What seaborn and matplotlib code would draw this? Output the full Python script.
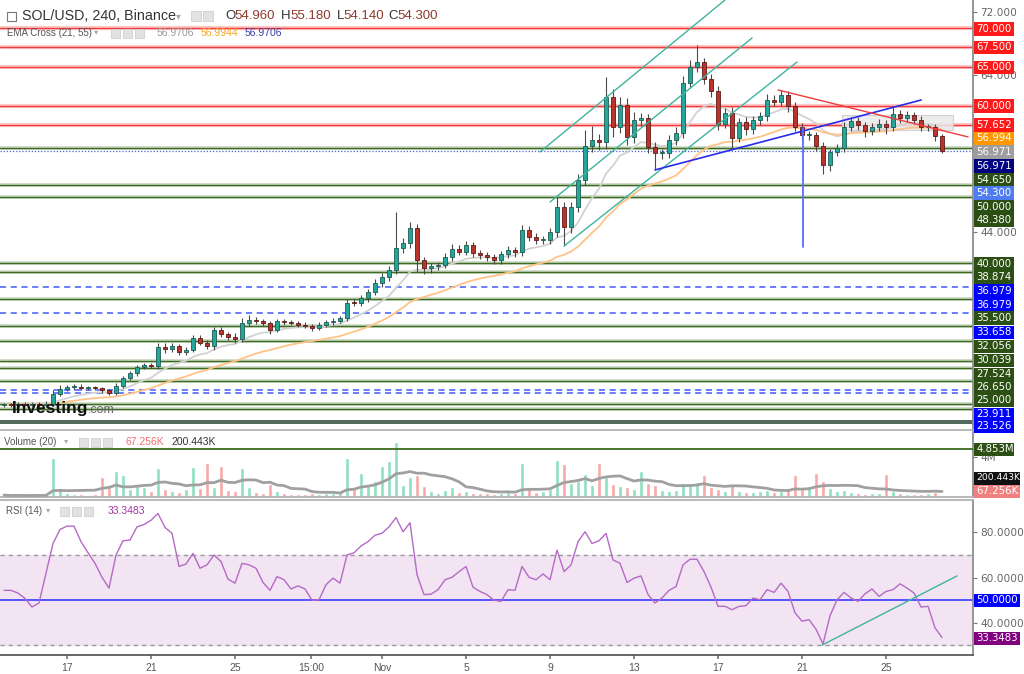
import numpy as np
import pandas as pd
import matplotlib
matplotlib.use("Agg")
import matplotlib.pyplot as plt
import seaborn as sns
from matplotlib.patches import Rectangle

# ---------------- data (8h candles, Oct 14 -> Nov 27) ----------------
first_open = 21.9
closes = [
    22.0, 21.9, 22.1, 22.0, 22.1, 21.9, 22.1, 23.4, 24.0, 24.2,
    24.3, 24.1, 24.2, 24.1, 23.8, 23.5, 24.4, 25.4, 26.0, 26.8,
    27.0, 26.9, 29.3, 29.1, 29.4, 28.7, 29.0, 30.5, 29.9, 29.4,
    31.5, 31.0, 30.6, 30.4, 32.4, 32.8, 32.6, 32.4, 31.5, 32.6,
    32.5, 32.4, 32.2, 32.0, 31.8, 32.2, 32.5, 32.7, 33.0, 35.0,
    34.9, 35.6, 36.3, 37.5, 38.3, 39.2, 41.9, 42.6, 44.5, 40.4,
    39.4, 39.6, 39.8, 40.8, 41.8, 41.5, 42.3, 41.3, 41.0, 40.8,
    40.4, 41.2, 41.7, 41.4, 44.2, 43.4, 43.0, 43.0, 44.0, 47.2,
    44.6, 47.2, 50.6, 55.0, 55.7, 55.4, 61.2, 57.4, 60.2, 56.1,
    58.3, 58.5, 54.8, 54.0, 54.0, 55.7, 56.6, 63.0, 65.0, 65.7,
    63.5, 62.0, 57.8, 59.1, 56.0, 58.0, 57.1, 58.2, 58.7, 60.8,
    60.6, 61.5, 60.0, 57.4, 56.3, 56.3, 55.0, 52.5, 54.2, 54.7,
    57.4, 58.1, 57.6, 56.8, 57.4, 57.8, 57.3, 59.0, 58.5, 58.9,
    58.3, 57.4, 57.4, 56.2, 54.3]
up_wick = [
    0.2, 0.2, 0.2, 0.2, 0.2, 0.2, 0.3, 0.4, 0.5, 0.3,
    0.3, 0.3, 0.2, 0.2, 0.2, 0.2, 0.3, 0.3, 0.3, 0.3,
    0.3, 0.3, 0.6, 0.5, 0.4, 0.3, 0.3, 0.4, 0.3, 0.3,
    0.4, 0.4, 0.3, 0.5, 0.6, 0.6, 0.3, 0.3, 0.3, 0.3,
    0.3, 0.3, 0.3, 0.3, 0.3, 0.3, 0.3, 0.3, 0.3, 0.4,
    0.4, 0.4, 0.4, 0.5, 0.5, 0.5, 4.6, 0.6, 0.8, 0.5,
    0.4, 0.4, 0.4, 0.5, 0.6, 0.5, 0.6, 0.4, 0.4, 0.4,
    0.4, 0.4, 0.5, 0.4, 0.7, 0.6, 0.5, 0.5, 0.5, 1.2,
    0.6, 0.6, 0.8, 2.0, 1.8, 0.8, 2.5, 1.0, 1.0, 0.8,
    1.0, 0.6, 0.5, 0.6, 0.5, 0.6, 0.8, 0.8, 0.9, 2.1,
    0.5, 0.6, 0.6, 0.7, 0.8, 0.5, 0.6, 0.6, 0.6, 0.8,
    0.6, 0.6, 0.5, 0.5, 0.5, 0.5, 0.4, 0.5, 0.4, 0.5,
    0.6, 0.5, 0.5, 0.4, 0.5, 0.6, 0.4, 0.9, 0.5, 0.5,
    0.4, 0.4, 0.4, 0.3, 0.3]
dn_wick = [
    0.2, 0.2, 0.2, 0.2, 0.2, 0.2, 0.2, 0.3, 0.3, 0.3,
    0.3, 0.2, 0.2, 0.2, 0.3, 0.3, 0.3, 0.3, 0.3, 0.3,
    0.3, 0.3, 0.4, 0.5, 0.4, 0.4, 0.4, 0.3, 0.3, 0.3,
    0.4, 0.4, 0.4, 0.5, 0.4, 0.4, 0.3, 0.4, 0.5, 0.3,
    0.3, 0.3, 0.3, 0.3, 0.4, 0.3, 0.3, 0.3, 0.3, 0.3,
    0.4, 0.4, 0.5, 0.4, 0.5, 0.5, 0.6, 0.6, 0.7, 1.5,
    0.8, 0.7, 0.5, 0.4, 0.5, 0.5, 0.5, 0.5, 0.5, 0.5,
    0.5, 0.5, 0.5, 0.6, 0.5, 0.5, 0.5, 0.6, 0.6, 0.6,
    2.4, 0.8, 0.7, 0.6, 0.8, 1.0, 0.8, 1.3, 0.8, 1.0,
    0.8, 0.8, 0.8, 2.1, 0.7, 0.6, 0.6, 0.7, 0.6, 0.6,
    0.7, 0.8, 0.8, 0.6, 1.4, 0.6, 0.7, 0.6, 0.6, 0.6,
    0.6, 0.6, 0.7, 0.5, 0.6, 0.6, 0.7, 1.1, 0.7, 0.5,
    0.5, 0.5, 0.6, 0.7, 0.5, 0.6, 0.8, 0.5, 0.6, 0.5,
    0.5, 0.5, 0.5, 0.6, 0.3]
volume_m = [
    0.2, 0.1, 0.2, 0.1, 0.2, 0.1, 0.3, 3.9, 0.9, 0.4,
    0.3, 0.3, 0.2, 0.3, 2.0, 1.1, 2.6, 2.2, 0.8, 1.2,
    1.0, 0.6, 2.9, 0.8, 0.6, 0.5, 0.8, 3.0, 0.9, 3.4,
    1.0, 3.1, 0.7, 0.6, 2.9, 1.0, 0.5, 0.4, 1.3, 0.6,
    0.4, 0.3, 0.3, 0.3, 0.4, 0.3, 0.4, 0.4, 0.6, 3.9,
    1.0, 2.4, 1.3, 1.6, 3.1, 3.6, 5.6, 1.2, 2.0, 2.2,
    1.1, 0.6, 0.4, 0.7, 1.0, 0.5, 0.6, 0.4, 0.4, 0.4,
    0.3, 0.4, 0.5, 0.4, 3.4, 1.0, 0.5, 0.6, 0.8, 3.7,
    3.3, 1.4, 1.6, 2.3, 1.2, 3.4, 2.0, 1.3, 1.1, 1.0,
    0.8, 2.6, 1.4, 1.2, 0.7, 0.6, 0.7, 1.4, 1.2, 1.5,
    2.2, 1.0, 0.8, 0.6, 1.3, 0.6, 0.5, 0.5, 0.6, 0.7,
    0.5, 0.6, 0.7, 2.2, 1.0, 1.1, 2.4, 1.6, 0.9, 0.6,
    0.7, 0.5, 0.4, 0.3, 0.4, 0.4, 2.3, 0.6, 0.4, 0.3,
    0.3, 0.3, 0.4, 0.5, 0.07]
rsi_vals = [
    54.3, 54.3, 53.1, 50.7, 46.9, 48.7, 61.9, 75.1, 81.3, 82.8,
    82.8, 75.9, 71.0, 66.3, 60.1, 55.3, 70.0, 76.3, 76.6, 82.5,
    83.5, 85.4, 88.4, 82.2, 79.6, 64.9, 66.0, 70.7, 64.1, 65.6,
    70.0, 67.1, 59.3, 57.5, 66.3, 65.6, 64.1, 57.8, 54.3, 60.4,
    59.0, 54.9, 56.3, 54.9, 49.9, 50.1, 56.8, 59.7, 57.5, 70.0,
    71.0, 74.0, 75.9, 78.8, 79.6, 82.5, 86.6, 80.3, 84.3, 61.2,
    52.4, 52.6, 54.6, 59.0, 60.1, 62.6, 64.9, 55.7, 53.8, 52.4,
    49.9, 49.4, 54.6, 54.3, 64.9, 60.1, 59.0, 61.6, 59.0, 72.2,
    62.6, 65.6, 75.9, 80.3, 75.1, 76.3, 79.6, 67.8, 66.3, 57.8,
    59.7, 60.7, 52.4, 48.7, 50.9, 54.3, 56.0, 65.6, 68.1, 68.1,
    62.6, 55.7, 47.2, 47.2, 45.7, 47.2, 47.5, 50.9, 50.1, 54.6,
    53.4, 57.5, 53.8, 44.3, 40.6, 41.3, 37.0, 30.5, 43.1, 50.1,
    53.4, 50.9, 49.4, 52.8, 54.9, 51.6, 53.8, 54.6, 57.2, 55.3,
    53.1, 46.9, 47.2, 37.6, 33.35]

red_levels = [70.0, 67.5, 65.0, 60.0, 57.652]
green_levels = [54.65, 50.0, 48.38, 40.0, 38.874, 35.5, 32.056, 30.039,
                27.524, 26.65, 25.0, 22.08, 21.45]
dark_levels = [19.95, 19.7]
blue_dashed_levels = [36.979, 33.658, 23.911, 23.526]
last_price = 54.30
vol_level_m = 4.853

# drawn lines: (day, price) pairs; day = day of October (Nov 1 = 31)
channel_lines = [((38.52, 54.18), (47.33, 73.54)),
                 ((39.00, 47.81), (48.62, 68.70)),
                 ((39.67, 42.20), (50.76, 65.64))]
blue_trend = ((44.00, 51.89), (56.67, 60.80))
red_trend = ((49.86, 62.08), (58.90, 56.10))
blue_vertical = (51.03, 42.1, 57.2)
zone_box = (52.9, 58.19, 57.0, 58.9)
rsi_trend = ((51.95, 30.0), (58.38, 60.7))

price_ticks = [72, 64, 44]
rsi_ticks = [40, 60, 80]
xtick_days = [16, 20, 24, 27.625, 31, 35, 39, 43, 47, 51, 55]
xtick_labels = ["17", "21", "25", "15:00", "Nov", "5", "9", "13", "17", "21", "25"]
first_day = 13.0
candles_per_day = 3

GREEN_LBL = "#2c4f14"
price_labels = [
    ("70.000", 29, "#ff1a1a"), ("67.500", 47, "#ff1a1a"), ("65.000", 67, "#ff1a1a"),
    ("60.000", 106, "#ff1a1a"), ("57.652", 125, "#ff1a1a"), ("56.994", 138, "#ff9800"),
    ("56.971", 152, "#9e9e9e"), ("56.971", 166, "#000080"), ("54.650", 180, GREEN_LBL),
    ("54.300", 193, "#4f7cf0"), ("50.000", 207, GREEN_LBL), ("48.380", 220, GREEN_LBL),
    ("40.000", 264, GREEN_LBL), ("38.874", 277, GREEN_LBL), ("36.979", 291, "#0000ff"),
    ("36.979", 305, "#0000ff"), ("35.500", 318, GREEN_LBL), ("33.658", 332, "#0000ff"),
    ("32.056", 346, GREEN_LBL), ("30.039", 360, GREEN_LBL), ("27.524", 374, GREEN_LBL),
    ("26.650", 387, GREEN_LBL), ("25.000", 400, GREEN_LBL), ("23.911", 414, "#0000ff"),
    ("23.526", 426, "#0000ff"),
    ("4.853M", 449, GREEN_LBL), ("200.443K", 478, "#111111"), ("67.256K", 491, "#f08080"),
    ("50.0000", 600, "#0000ff"), ("33.3483", 638, "#800080")]

# ---------------- figure ----------------
sns.set_theme(style="white")
plt.rcParams["font.family"] = ["Liberation Sans", "DejaVu Sans"]

W, H = 1024, 674
fig = plt.figure(figsize=(W / 100, H / 100), dpi=100)
fy = lambda p: 1 - p / H
RIGHT = 973 / W
ax = fig.add_axes([0, fy(430), RIGHT, 430 / H])
axv = fig.add_axes([0, fy(497), RIGHT, 65 / H], sharex=ax)
axr = fig.add_axes([0, fy(655), RIGHT, 155 / H], sharex=ax)

n = len(closes)
t = first_day + np.arange(n) / candles_per_day
c = np.array(closes)
o = np.array([first_open] + closes[:-1])
hi = np.maximum(o, c) + np.array(up_wick)
lo = np.minimum(o, c) - np.array(dn_wick)
rising = c >= o

# level lines
for lv in red_levels:
    ax.axhline(lv, color="#ffc9c9", lw=3, zorder=1)
    ax.axhline(lv, color="#f03c3c", lw=1.0, zorder=1.1)
for lv in green_levels:
    ax.axhline(lv, color="#c9d8c0", lw=2.6, zorder=1)
    ax.axhline(lv, color="#3d6b22", lw=1.0, zorder=1.1)
for lv in dark_levels:
    ax.axhline(lv, color="#2f4f3f", lw=1.2, zorder=1.1)
for lv in blue_dashed_levels:
    ax.axhline(lv, color="#3d5afe", lw=1.1, dashes=(4, 3), zorder=1.1)
ax.axhline(last_price, color="#4466dd", lw=0.9, ls=(0, (1, 1.5)), zorder=1.2)

# zone rectangle
zx0, zx1, zy0, zy1 = zone_box
ax.add_patch(Rectangle((zx0, zy0), zx1 - zx0, zy1 - zy0, fc="#e9e9e9", ec="#cccccc",
                       lw=0.8, alpha=0.85, zorder=1.5))

# EMAs
s = pd.Series(closes)
ema_fast = s.ewm(span=11, adjust=False).mean()
ema_slow = s.ewm(span=28, adjust=False).mean()
sns.lineplot(x=t, y=ema_fast.values, ax=ax, color="#d2d2d2", lw=1.3, legend=False, zorder=2)
sns.lineplot(x=t, y=ema_slow.values, ax=ax, color="#ffc387", lw=1.3, legend=False, zorder=2)

# candles
ax.vlines(t, lo, hi, color="#4a4a4a", lw=0.8, zorder=3)
body_lo = np.minimum(o, c)
body_h = np.maximum(np.abs(c - o), 0.12)
ax.bar(t, body_h, bottom=body_lo, width=0.2,
       color=np.where(rising, "#26a69a", "#b9342c"),
       edgecolor=np.where(rising, "#1c5c52", "#5e1a16"), lw=0.6, zorder=4)

# trend lines
for (p0, p1) in channel_lines:
    ax.plot([p0[0], p1[0]], [p0[1], p1[1]], color="#3fb39f", lw=1.0, zorder=5)
ax.plot([blue_trend[0][0], blue_trend[1][0]], [blue_trend[0][1], blue_trend[1][1]],
        color="#2a2aee", lw=1.2, zorder=5)
ax.plot([red_trend[0][0], red_trend[1][0]], [red_trend[0][1], red_trend[1][1]],
        color="#f03c3c", lw=1.0, zorder=5)
ax.plot([blue_vertical[0]] * 2, [blue_vertical[1], blue_vertical[2]],
        color="#5b6cff", lw=1.3, zorder=5)

ax.set_xlim(12.81, 59.14)
ax.set_ylim(18.76, 73.54)

# volume
vol = np.array(volume_m) * 1e6
axv.bar(t, vol, width=0.22, color=np.where(rising, "#8fe0c0", "#f7a8a8"), zorder=2)
vol_ma = pd.Series(vol).rolling(10, min_periods=1).mean()
sns.lineplot(x=t, y=vol_ma.values, ax=axv, color="#a0a0a0", lw=2, legend=False, zorder=3)
axv.axhline(vol_level_m * 1e6, color="#3d6b22", lw=1.3, zorder=3)
axv.set_ylim(0, 6.57e6)

# RSI
axr.axhspan(30, 70, color="#f2e4f2", zorder=0)
axr.axhline(70, color="#999999", lw=1, dashes=(3, 3))
axr.axhline(30, color="#999999", lw=1, dashes=(3, 3))
axr.axhline(50, color="#2b2bff", lw=1.1)
sns.lineplot(x=t, y=rsi_vals, ax=axr, color="#b46ac6", lw=1.0, legend=False, zorder=3)
axr.plot([rsi_trend[0][0], rsi_trend[1][0]], [rsi_trend[0][1], rsi_trend[1][1]],
         color="#3fb39f", lw=1.0, zorder=4)
axr.set_ylim(25.6, 94.4)

# axes styling
for a in (ax, axv, axr):
    a.set_facecolor("white")
    a.yaxis.tick_right()
    a.tick_params(axis="y", which="both", right=True, length=3, width=0.8,
                  colors="#777777", labelcolor="#666666", labelsize=7.6, pad=2)
    for side in ("left", "top"):
        a.spines[side].set_visible(False)
    a.spines["right"].set_color("#888888")
    a.spines["bottom"].set_color("#b0b0b0")
    a.grid(False)
    a.set_xlabel("")
    a.set_ylabel("")
axr.spines["top"].set_visible(True)
axr.spines["top"].set_color("#b0b0b0")
axr.spines["bottom"].set_color("#555555")

ax.set_yticks(price_ticks)
ax.set_yticklabels([f"{v:.3f}" for v in price_ticks], family="DejaVu Sans")
axv.set_yticks([4e6])
axv.set_yticklabels(["4M"], family="DejaVu Sans")
axr.set_yticks(rsi_ticks)
axr.set_yticklabels([f"{v:.4f}" for v in rsi_ticks], family="DejaVu Sans")

ax.tick_params(axis="x", bottom=False, labelbottom=False)
axv.tick_params(axis="x", bottom=False, labelbottom=False)
axr.set_xticks(xtick_days)
axr.set_xticklabels(xtick_labels)
axr.tick_params(axis="x", bottom=True, length=3, colors="#777777",
                labelcolor="#555555", labelsize=7.5, pad=3)

# right-side value boxes (fixed-size boxes like the reference)
for txt, ypx, col in price_labels:
    bw = 46 if len(txt) > 6 else 40
    fsz = 6.6 if len(txt) > 7 else 7.3
    fig.patches.append(Rectangle((974 / W, fy(ypx + 6.5)), bw / W, 13 / H,
                                 transform=fig.transFigure, fc=col, ec="none", zorder=9))
    fig.text(976.5 / W, fy(ypx), txt, color="white", fontsize=fsz, va="center", ha="left",
             family=["DejaVu Sans"], zorder=10)

# header texts
def icon(xpx, ypx, size=9):
    fig.patches.append(Rectangle((xpx / W, fy(ypx + size / 2)), size / W, size / H,
                                 transform=fig.transFigure, fc="#e2e2e2", ec="#cfcfcf",
                                 lw=0.6, zorder=9))

fig.patches.append(Rectangle((7 / W, fy(21)), 9 / W, 9 / H, transform=fig.transFigure,
                             fc="white", ec="#777777", lw=0.8, zorder=9))
fig.text(22 / W, fy(16), "SOL/USD, 240, Binance", fontsize=10.3, color="#333333",
         va="center", zorder=10)
fig.text(176 / W, fy(16), "▾", fontsize=7, color="#aaaaaa", va="center", zorder=10)
icon(191, 16, 10)
icon(203, 16, 10)
for lab, xl, val, xv in [("O", 225, "54.960", 234), ("H", 281, "55.180", 290),
                         ("L", 337, "54.140", 343), ("C", 388, "54.300", 397)]:
    fig.text(xl / W, fy(16), lab, fontsize=9.5, color="#333333", va="center", zorder=10)
    fig.text(xv / W, fy(16), val, fontsize=9.5, color="#8e3a2c", va="center", zorder=10)

fig.text(7 / W, fy(33), "EMA Cross (21, 55)", fontsize=7, color="#555555", va="center", zorder=10)
fig.text(94 / W, fy(33), "▾", fontsize=6, color="#aaaaaa", va="center", zorder=10)
for xp in (111, 123, 135):
    icon(xp, 33, 9)
fig.text(157 / W, fy(33), "56.9706", fontsize=7.5, color="#9a9a9a", va="center", zorder=10)
fig.text(201 / W, fy(33), "56.9944", fontsize=7.5, color="#f5a623", va="center", zorder=10)
fig.text(245 / W, fy(33), "56.9706", fontsize=7.5, color="#3d3da8", va="center", zorder=10)

fig.text(4 / W, fy(442), "Volume (20)", fontsize=7, color="#555555", va="center", zorder=10)
fig.text(64 / W, fy(442), "▾", fontsize=6, color="#aaaaaa", va="center", zorder=10)
for xp in (79, 91, 103):
    icon(xp, 442, 9)
fig.text(126 / W, fy(442), "67.256K", fontsize=7.5, color="#f07070", va="center", zorder=10)
fig.text(171 / W, fy(442), "200.443K", fontsize=7.5, color="#333333", va="center", zorder=10)

fig.text(6 / W, fy(511), "RSI (14)", fontsize=7, color="#555555", va="center", zorder=10)
fig.text(46 / W, fy(511), "▾", fontsize=6, color="#aaaaaa", va="center", zorder=10)
for xp in (60, 72, 84):
    icon(xp, 511, 9)
fig.text(108 / W, fy(511), "33.3483", fontsize=7.5, color="#a0359f", va="center", zorder=10)

# watermark
fig.text(12 / W, fy(408), "Investing", fontsize=12.5, fontweight="bold", color="#111111",
         va="center", zorder=10)
fig.text(88 / W, fy(410), ".com", fontsize=9, color="#666666", va="center", zorder=10)

fig.savefig("out.png", dpi=100, facecolor="white")
